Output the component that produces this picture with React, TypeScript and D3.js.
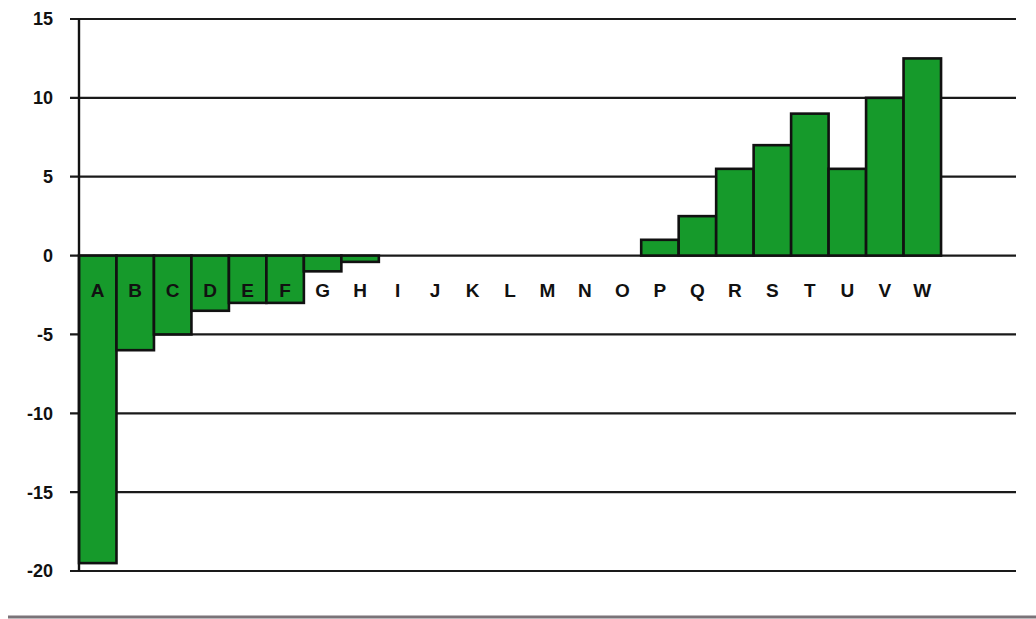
import React from "react";
import * as d3 from "d3";

const categories = ["A","B","C","D","E","F","G","H","I","J","K","L","M","N","O","P","Q","R","S","T","U","V","W","",""];
const values = [-19.5,-6,-5,-3.5,-3,-3,-1,-0.4,0,0,0,0,0,0,0,1,2.5,5.5,7,9,5.5,10,12.5,0,0];
const yTicks = [15,10,5,0,-5,-10,-15,-20];

const W = 1036;
const H = 619;
const left = 79;
const right = 1016;
const top = 19;
const bottom = 571;

export default function App() {
  const x = d3.scaleBand<string>()
    .domain(categories.map((c, i) => c + "_" + i))
    .range([left, right])
    .paddingInner(0)
    .paddingOuter(0);
  const y = d3.scaleLinear().domain([-20, 15]).range([bottom, top]);
  const keys = x.domain();
  const font = "'Liberation Sans', Arial, sans-serif";

  return (
    <svg width={W} height={H} style={{ position: "absolute", left: 0, top: 0, background: "#fff" }}>
      {/* gridlines and tick marks */}
      {yTicks.map((t) => (
        <g key={t}>
          <line x1={70} x2={right} y1={y(t)} y2={y(t)} stroke="#1a1a1a" strokeWidth={2.2} />
          <text x={53} y={y(t)} dy="0.36em" textAnchor="end" fontFamily={font} fontWeight="bold" fontSize={18} fill="#111">
            {t}
          </text>
        </g>
      ))}
      {/* bars */}
      {values.map((v, i) =>
        v === 0 ? null : (
          <rect
            key={keys[i]}
            x={x(keys[i])!}
            width={x.bandwidth()}
            y={Math.min(y(v), y(0))}
            height={Math.abs(y(v) - y(0))}
            fill="#169a2b"
            stroke="#111"
            strokeWidth={2.6}
          />
        )
      )}
      {/* value axis */}
      <line x1={left} x2={left} y1={top} y2={bottom} stroke="#111" strokeWidth={2.4} />
      {/* category labels */}
      {categories.map((c, i) => (
        <text
          key={keys[i]}
          x={x(keys[i])! + x.bandwidth() / 2}
          y={y(0) + 35}
          dy="0.36em"
          textAnchor="middle"
          fontFamily={font}
          fontWeight="bold"
          fontSize={19}
          fill="#111"
        >
          {c}
        </text>
      ))}
      {/* frame line along the foot */}
      <line x1={8} x2={W} y1={617} y2={617} stroke="#7a7378" strokeWidth={3} />
    </svg>
  );
}
